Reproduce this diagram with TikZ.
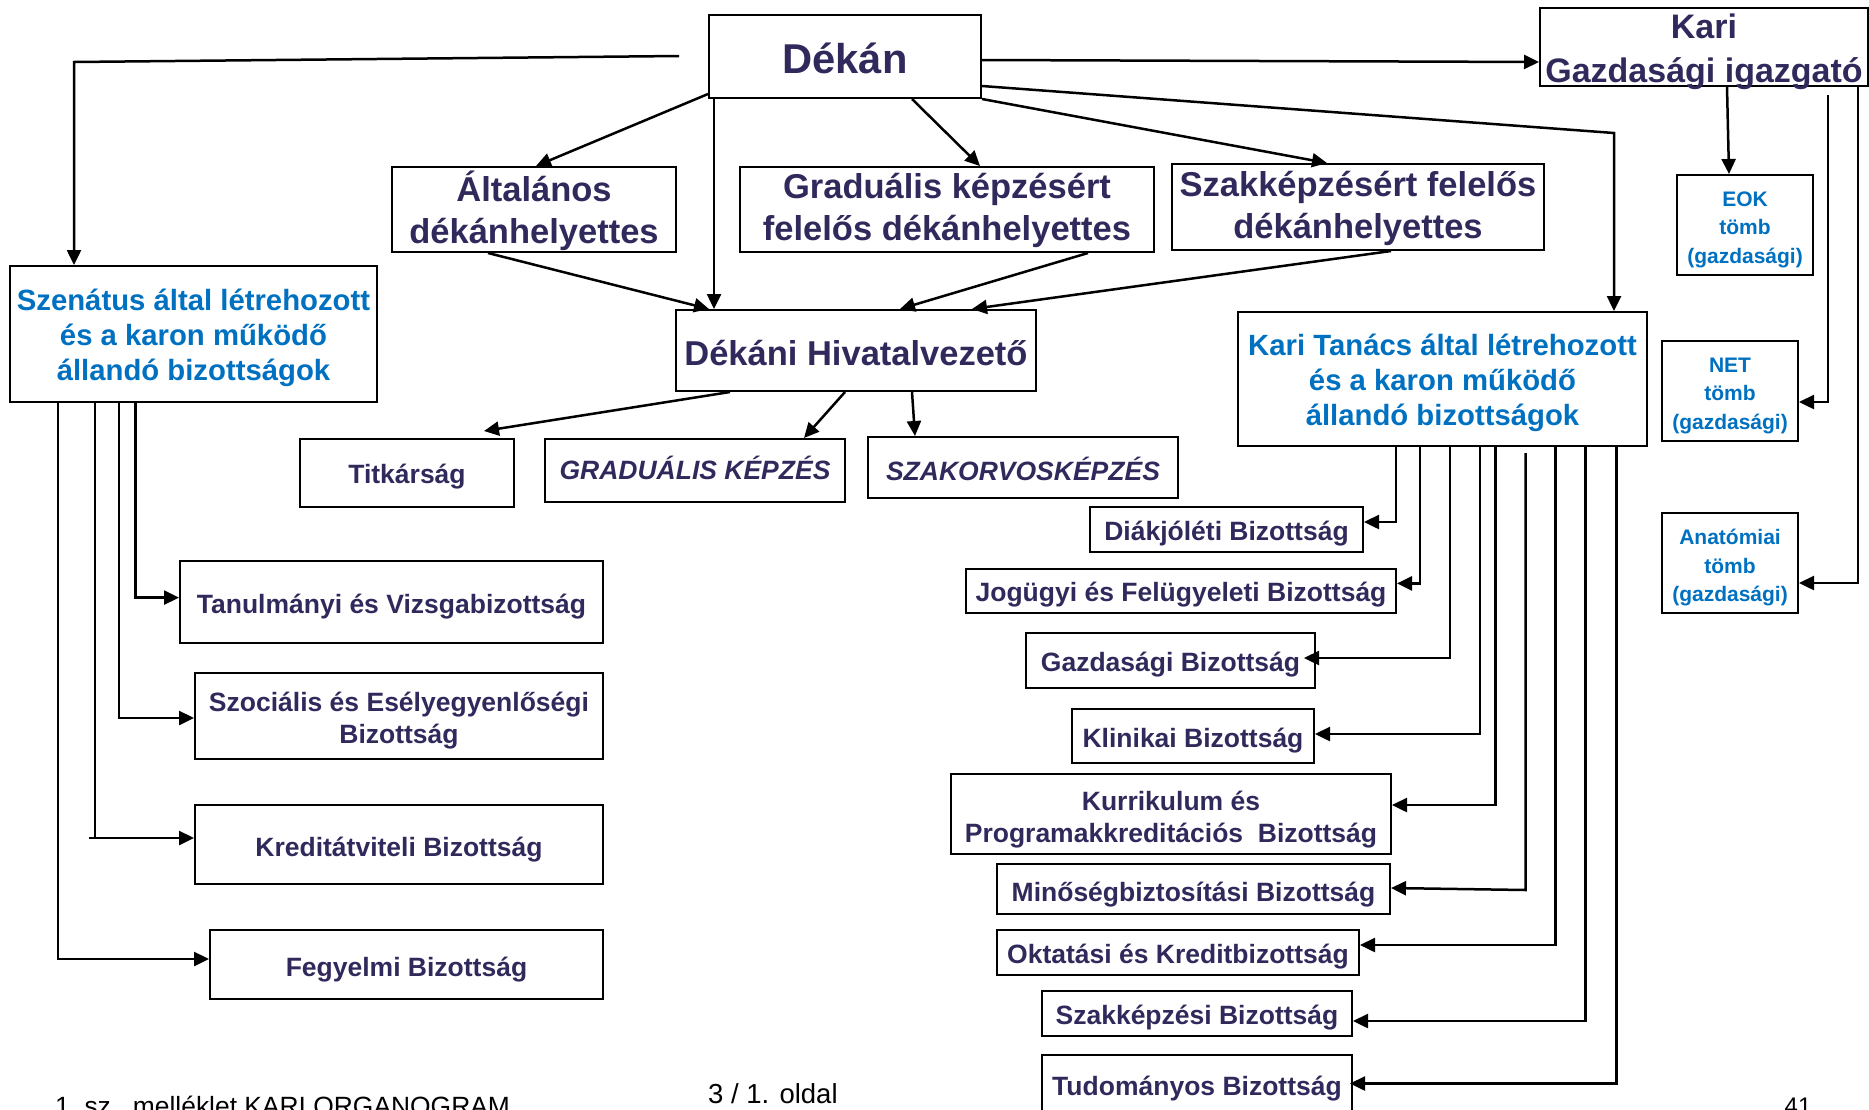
\documentclass[tikz,border=0pt]{standalone}
\usepackage{fontspec}
\setmainfont{Liberation Sans}
\usetikzlibrary{arrows.meta,calc}
\definecolor{navy}{RGB}{48,42,92}
\definecolor{kek}{RGB}{0,112,192}
% box with separately placed text: name, x, y, width, height, text style, vertical shift, text
\newcommand{\obox}[8]{%
  \node[box,minimum width=#4pt,minimum height=#5pt] (#1) at (#2,#3) {};
  \node[#6,yshift=#7pt] (#1-t) at (#1.center) {#8};}
\begin{document}
\begin{tikzpicture}[x=1pt,y=-1pt,
  box/.style={draw=black, line width=2pt, rectangle, inner sep=0pt},
  tx/.style={inner sep=0pt, align=center, text=navy},
  fA/.style={tx, font=\fontsize{41.7}{50}\selectfont\bfseries},
  fB/.style={tx, font=\fontsize{34.5}{42}\selectfont\bfseries},
  fK/.style={tx, font=\fontsize{34}{43.5}\selectfont\bfseries},
  fC/.style={tx, font=\fontsize{29.3}{35}\selectfont\bfseries, text=kek},
  fD/.style={tx, font=\fontsize{26.5}{32}\selectfont\bfseries},
  fDi/.style={tx, font=\fontsize{26.5}{32}\selectfont\bfseries\itshape},
  fE/.style={tx, font=\fontsize{21}{28.6}\selectfont\bfseries, text=kek},
  foot/.style={inner sep=0pt, text=black},
  arr/.style={line width=2.5pt, -{Triangle[length=15pt,width=14pt]}},
  ln/.style={line width=2.5pt},
]
\useasboundingbox (0,0) rectangle (1869,1109);

% top level
\obox{dekan}{845}{56.5}{272}{83}{fA}{-2.4}{Dékán}
\obox{kgi}{1704}{47}{328}{78}{fK}{-4.75}{Kari\\Gazdasági igazgató}

% deputies
\obox{alt}{534}{209.5}{284}{85}{fB}{-1.2}{Általános\\dékánhelyettes}
\obox{grad}{947}{209.5}{414}{85}{fB}{-1.2}{Graduális képzésért\\felelős dékánhelyettes}
\obox{szakk}{1358}{207}{372}{86}{fB}{-1.2}{Szakképzésért felelős\\dékánhelyettes}

\obox{szen}{193.5}{334}{367}{136}{fC}{-4.2}{Szenátus által létrehozott\\és a karon működő\\állandó bizottságok}
\obox{dhv}{856}{350.5}{360}{81}{fB}{-2.4}{Dékáni Hivatalvezető}
\obox{kt}{1442.5}{379}{409}{134}{fC}{-3.6}{Kari Tanács által létrehozott\\és a karon működő\\állandó bizottságok}

% economic blocks
\obox{eok}{1745}{225}{136}{100}{fE}{-4.8}{EOK\\tömb\\(gazdasági)}
\obox{net}{1730}{391}{136}{100}{fE}{-4.8}{NET\\tömb\\(gazdasági)}
\obox{anat}{1730}{563}{136}{100}{fE}{-4.8}{Anatómiai\\tömb\\(gazdasági)}

% office units
\obox{tit}{407}{473}{214}{68}{fD}{-3.6}{Titkárság}
\obox{gk}{695}{470.5}{300}{63}{fDi}{2.4}{GRADUÁLIS KÉPZÉS}
\obox{szo}{1023}{467.5}{310}{61}{fDi}{-1.2}{SZAKORVOSKÉPZÉS}

% senate committees
\obox{tan}{391.5}{602}{423}{82}{fD}{-4.8}{Tanulmányi és Vizsgabizottság}
\obox{szoc}{399}{716}{408}{86}{fD}{-4.8}{Szociális és Esélyegyenlőségi\\Bizottság}
\obox{kredit}{399}{844.5}{408}{79}{fD}{-4.8}{Kreditátviteli Bizottság}
\obox{fegy}{406.5}{964.5}{393}{69}{fD}{-4.8}{Fegyelmi Bizottság}

% faculty council committees
\obox{diak}{1226.5}{529.5}{273}{45}{fD}{-3.6}{Diákjóléti Bizottság}
\obox{jog}{1181}{591}{430}{44}{fD}{-3.6}{Jogügyi és Felügyeleti Bizottság}
\obox{gazd}{1170.5}{660.5}{289}{55}{fD}{-3.6}{Gazdasági Bizottság}
\obox{klin}{1193}{736}{242}{54}{fD}{-4.8}{Klinikai Bizottság}
\obox{kurr}{1171}{814}{440}{80}{fD}{-5.4}{Kurrikulum és\\Programakkreditációs\ \ Bizottság}
\obox{min}{1193.5}{889}{393}{50}{fD}{-6}{Minőségbiztosítási Bizottság}
\obox{okt}{1178}{952.5}{362}{45}{fD}{-3.6}{Oktatási és Kreditbizottság}
\obox{szakb}{1197}{1013.5}{310}{45}{fD}{-3.6}{Szakképzési Bizottság}
\obox{tud}{1197}{1087.5}{310}{65}{fD}{-1.2}{Tudományos Bizottság}

% footer
\node[foot,anchor=base west,font=\fontsize{26.4}{30}\selectfont] (f1) at (55,1115.6) {1.\ sz.\ \ melléklet KARI ORGANOGRAM};
\node[foot,anchor=base west,font=\fontsize{27.5}{30}\selectfont] (f2) at (708,1103) {3 / 1. oldal};
\node[foot,anchor=base,font=\fontsize{24}{30}\selectfont] (f3) at (1798,1114) {41};

% connectors from Dékán
\coordinate (d0) at (679,56);
\coordinate (d1) at (74,62);
\draw[arr] (d0) -- (d1) -- (d1 |- szen.north);
\draw[arr] (dekan.east |- 0,60) -- (kgi.west |- 0,62);
\draw[arr] (dekan.west |- 0,94) -- (536,0 |- alt.north);
\draw[arr] (714,0 |- dekan.south) -- (714,0 |- dhv.north);
\draw[arr] (912,0 |- dekan.south) -- (980,0 |- grad.north);
\draw[arr] (dekan.south east) -- (1327,0 |- szakk.north);
\coordinate (k1) at (1614,133);
\draw[arr] (dekan.east |- 0,86) -- (k1) -- (k1 |- kt.north);

% deputies to office head
\draw[arr] (488,0 |- alt.south) -- (709,0 |- dhv.north);
\draw[arr] (1088,0 |- grad.south) -- (900,0 |- dhv.north);
\draw[arr] (1391,0 |- szakk.south) -- (972,0 |- dhv.north);

% office head to units
\coordinate (t1) at (484,431);
\draw[arr] (730,0 |- dhv.south) -- (t1);
\draw[arr] (845,0 |- dhv.south) -- (804,0 |- gk.north);
\draw[arr] (912,0 |- dhv.south) -- (915,0 |- szo.north);

% economic director to blocks
\draw[arr] (1727,0 |- kgi.south) -- (1729,0 |- eok.north);
\coordinate (n1) at (1828,95);
\draw[arr] (n1) |- (net.east |- 0,402);
\draw[arr] (1858,0 |- kgi.south) |- (anat.east |- 0,583);

% senate committees
\draw[arr] (135.5,0 |- szen.south) |- (tan.west |- 0,597.6);
\draw[arr] (119,0 |- szen.south) |- (szoc.west |- 0,718);
\draw[ln] (95,0 |- szen.south) -- (95,838);
\coordinate (kr0) at (89,838);
\draw[arr] (kr0) -- (kredit.west |- kr0);
\draw[arr] (58,0 |- szen.south) |- (fegy.west |- 0,959);

% faculty council committees
\draw[arr] (1396,0 |- kt.south) |- (diak.east |- 0,522);
\draw[arr] (1420,0 |- kt.south) |- (jog.east |- 0,583.4);
\draw[arr] (1450,0 |- kt.south) |- ($(gazd.east |- 0,658)+(-12,0)$);
\draw[arr] (1480,0 |- kt.south) |- (klin.east |- 0,734);
\draw[arr] (1495.7,0 |- kt.south) |- (kurr.east |- 0,805);
\coordinate (m0) at (1525.7,453);
\draw[arr] (m0) -- (1525.7,890) -- (min.east |- 0,888);
\draw[arr] (1555.7,0 |- kt.south) |- (okt.east |- 0,945);
\draw[arr] (1585.7,0 |- kt.south) |- (szakb.east |- 0,1021);
\draw[arr] (1616.7,0 |- kt.south) |- ($(tud.east |- 0,1083.5)+(-3,0)$);
\end{tikzpicture}
\end{document}
